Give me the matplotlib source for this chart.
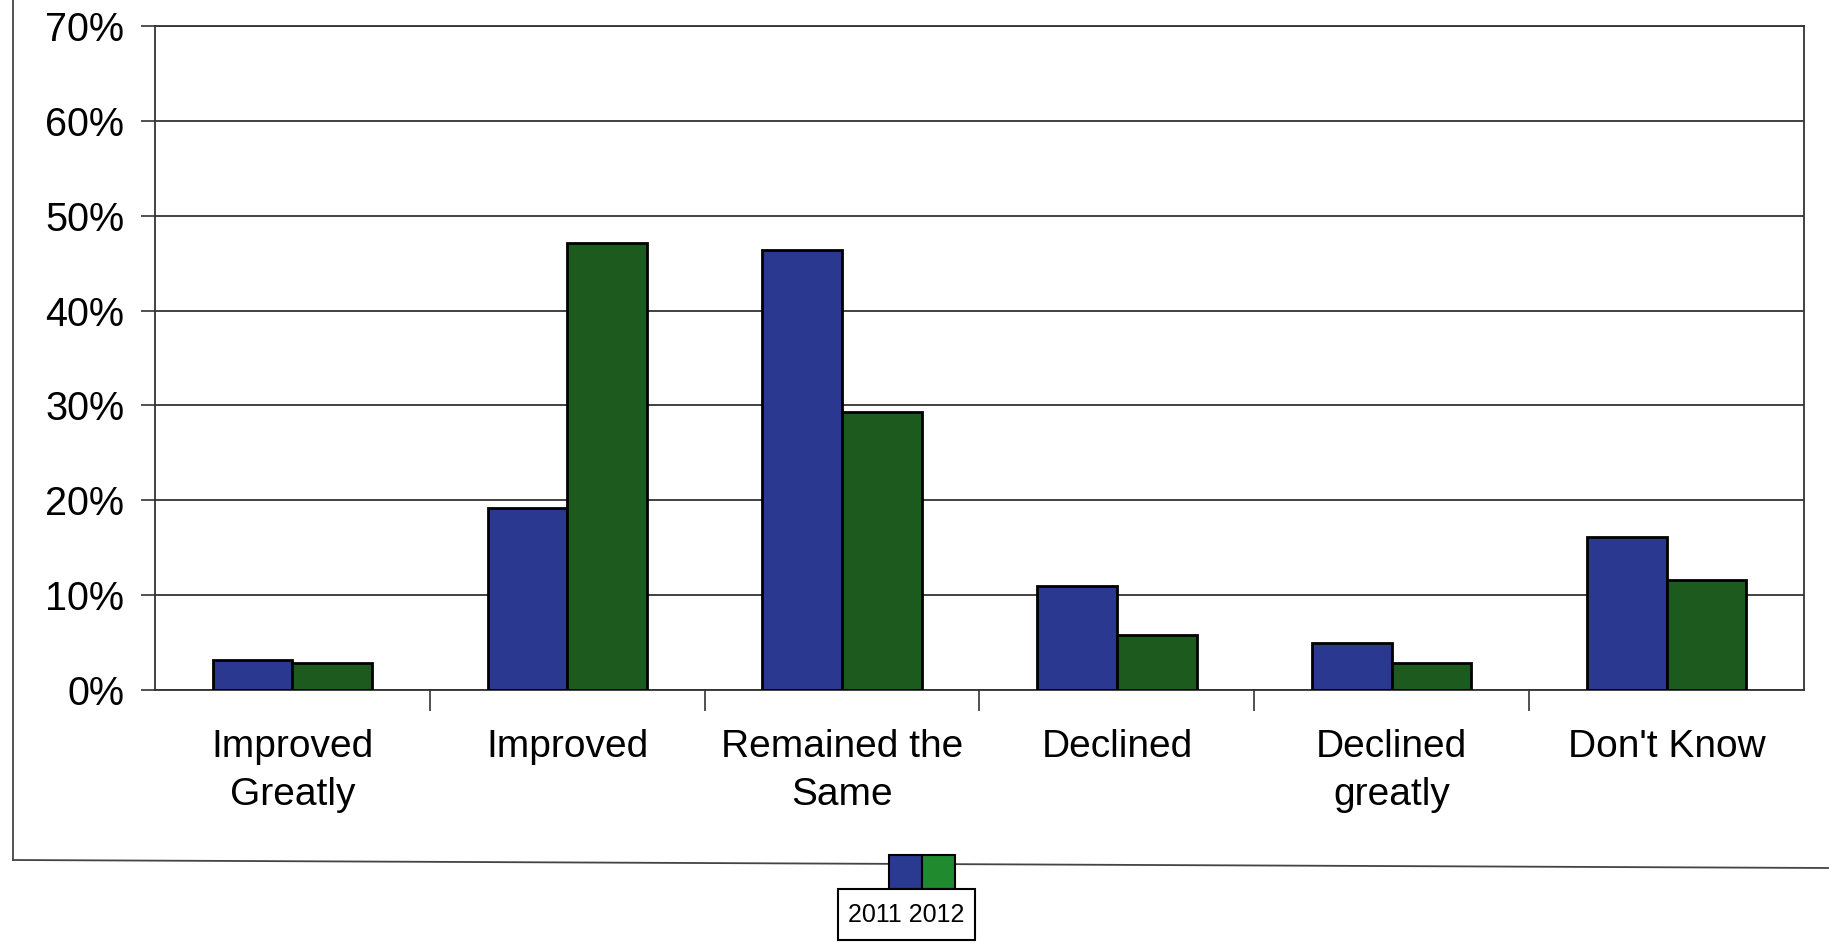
import matplotlib
matplotlib.use("Agg")
import matplotlib.pyplot as plt
import numpy as np
from matplotlib.lines import Line2D
from matplotlib.patches import Rectangle

categories = ["Improved\nGreatly", "Improved", "Remained the\nSame", "Declined",
              "Declined\ngreatly", "Don't Know"]
series_names = ["2011", "2012"]
values_2011 = [3.2, 19.2, 46.4, 11.0, 5.0, 16.1]
values_2012 = [2.8, 47.1, 29.3, 5.8, 2.8, 11.6]
yticks = [0, 10, 20, 30, 40, 50, 60, 70]
ytick_labels = ["0%", "10%", "20%", "30%", "40%", "50%", "60%", "70%"]

bar_colors = ["#2b388f", "#1c5a1e"]
legend_colors = ["#2b3a91", "#1f8a2e"]

plt.rcParams['font.family'] = ['Liberation Sans', 'DejaVu Sans']

fig = plt.figure(figsize=(18.29, 9.43), dpi=100)
ax = fig.add_axes([155/1829, 1 - 690/943, (1804-155)/1829, (690-26)/943])

x = np.arange(len(categories))
w = 0.29
ax.bar(x - w/2, values_2011, width=w, color=bar_colors[0], edgecolor="black",
       linewidth=2, zorder=3, label=series_names[0])
ax.bar(x + w/2, values_2012, width=w, color=bar_colors[1], edgecolor="black",
       linewidth=2, zorder=3, label=series_names[1])

ax.set_xlim(-0.5, len(categories) - 0.5)
ax.set_ylim(0, 70)
ax.set_yticks(yticks)
ax.set_yticklabels(ytick_labels, fontsize=28.5)
ax.yaxis.grid(True, color="#333333", linewidth=1.3, zorder=0)
ax.tick_params(axis="y", length=10, width=1.2, color="#333333", pad=12)

# category labels at centers, tick marks at boundaries
ax.set_xticks(x)
ax.set_xticklabels(categories, fontsize=28, linespacing=1.45)
ax.tick_params(axis="x", which="major", length=0, pad=28)
ax.set_xticks(np.arange(0.5, len(categories) - 0.5, 1), minor=True)
ax.tick_params(axis="x", which="minor", length=15, width=1.2, color="#333333")

for s in ax.spines.values():
    s.set_color("#333333")
    s.set_linewidth(1.3)

# outer chart frame
fig.add_artist(Line2D([13/1829, 13/1829], [1, 1 - 860/943], color="#444444",
                      linewidth=1.3, transform=fig.transFigure))
fig.add_artist(Line2D([13/1829, 1], [1 - 860/943, 1 - 868/943], color="#444444",
                      linewidth=1.3, transform=fig.transFigure))

# legend: colour swatches above a boxed label
sw_x0, sw_w, sw_y0, sw_h = 889, 33, 855, 34
for i, c in enumerate(legend_colors):
    fig.add_artist(Rectangle(((sw_x0 + i*sw_w)/1829, 1 - (sw_y0 + sw_h)/943),
                             sw_w/1829, sw_h/943, transform=fig.transFigure,
                             facecolor=c, edgecolor="black", linewidth=1.5, zorder=5))
fig.add_artist(Rectangle((838/1829, 1 - 940/943), (975-838)/1829, (940-889)/943,
                         transform=fig.transFigure, facecolor="white",
                         edgecolor="black", linewidth=1.5, zorder=6))
fig.text(906.5/1829, 1 - 915/943, " ".join(series_names), fontsize=18,
         ha="center", va="center", zorder=7)

fig.savefig("out.png", dpi=100)
